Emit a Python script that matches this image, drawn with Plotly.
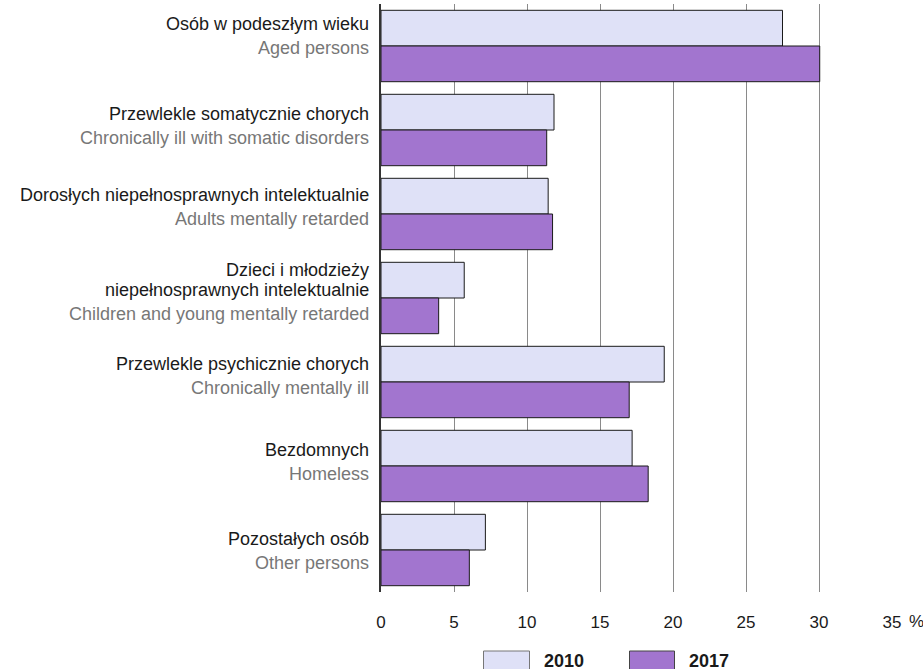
import plotly.graph_objects as go

categories_pl = [
    ["Osób w podeszłym wieku"],
    ["Przewlekle somatycznie chorych"],
    ["Dorosłych niepełnosprawnych intelektualnie"],
    ["Dzieci i młodzieży", "niepełnosprawnych intelektualnie"],
    ["Przewlekle psychicznie chorych"],
    ["Bezdomnych"],
    ["Pozostałych osób"],
]
categories_en = [
    "Aged persons",
    "Chronically ill with somatic disorders",
    "Adults mentally retarded",
    "Children and young mentally retarded",
    "Chronically mentally ill",
    "Homeless",
    "Other persons",
]
values_2010 = [27.5, 11.85, 11.45, 5.7, 19.4, 17.2, 7.15]
values_2017 = [30.05, 11.35, 11.75, 3.95, 17.0, 18.3, 6.05]
series_names = ["2010", "2017"]
tick_vals = [0, 5, 10, 15, 20, 25, 30, 35]
tick_text = ["0", "5", "10", "15", "20", "25", "30", "35"]

# styling
label_block_shift = [-10.5, -4.5, -7, -6.5, -6, -4.5, 1]
col_2010 = "#DFE1F7"
col_2017 = "#A275CF"
FONT = "Liberation Sans, Arial, sans-serif"

fig = go.Figure()
fig.add_trace(go.Bar(
    y=categories_en, x=values_2010, orientation="h", name=series_names[0],
    marker=dict(color=col_2010, line=dict(color="#1a1a1a", width=1)),
    showlegend=False,
))
fig.add_trace(go.Bar(
    y=categories_en, x=values_2017, orientation="h", name=series_names[1],
    marker=dict(color=col_2017, line=dict(color="#1a1a1a", width=1)),
    showlegend=False,
))

annotations = []
for i, en in enumerate(categories_en):
    pl_lines = categories_pl[i]
    n = len(pl_lines)
    offs = [j * 20 for j in range(n)] + [(n - 1) * 20 + 24]
    mid = (offs[0] + offs[-1]) / 2
    offs = [o - mid + label_block_shift[i] for o in offs]
    for j, txt in enumerate(pl_lines):
        annotations.append(dict(
            x=0, xref="paper", y=en, yref="y", text=txt, showarrow=False,
            xanchor="right", yanchor="middle", xshift=-10, yshift=-offs[j],
            font=dict(family=FONT, size=18, color="#1a1a1a"),
        ))
    annotations.append(dict(
        x=0, xref="paper", y=en, yref="y", text=en, showarrow=False,
        xanchor="right", yanchor="middle", xshift=-10, yshift=-offs[-1],
        font=dict(family=FONT, size=18, color="#777777"),
    ))

# percent sign after last tick
annotations.append(dict(
    x=35, xref="x", y=0, yref="paper", text="%", showarrow=False,
    xanchor="left", yanchor="top", xshift=15, yshift=-18,
    font=dict(family=FONT, size=17, color="#1a1a1a"),
))

# legend (custom)
L = 381.0
W = 923 - 31 - L
T = 4.0
H = 592 - T
def px(x):
    return (x - L) / W
def py(y):
    return (T + H - y) / H

shapes = [
    dict(type="rect", xref="paper", yref="paper", x0=px(483.5), x1=px(529.5), y0=py(651), y1=py(672),
         fillcolor=col_2010, line=dict(color="#777777", width=1)),
    dict(type="rect", xref="paper", yref="paper", x0=px(629.5), x1=px(674.5), y0=py(651), y1=py(672),
         fillcolor=col_2017, line=dict(color="#444444", width=1)),
]
annotations.append(dict(x=px(542), xref="paper", y=py(661), yref="paper", text="<b>" + series_names[0] + "</b>",
                        showarrow=False, xanchor="left", yanchor="middle",
                        font=dict(family=FONT, size=18, color="#1a1a1a")))
annotations.append(dict(x=px(686.5), xref="paper", y=py(661), yref="paper", text="<b>" + series_names[1] + "</b>",
                        showarrow=False, xanchor="left", yanchor="middle",
                        font=dict(family=FONT, size=18, color="#1a1a1a")))

fig.update_layout(
    width=923, height=669,
    margin=dict(l=381, r=31, t=4, b=77),
    paper_bgcolor="white", plot_bgcolor="white",
    barmode="group", bargap=0.15, bargroupgap=0,
    font=dict(family=FONT, size=17, color="#1a1a1a"),
    annotations=annotations, shapes=shapes,
    xaxis=dict(
        range=[0, 35], tickvals=tick_vals, ticktext=tick_text,
        showgrid=True, gridcolor="#8a8a8a", gridwidth=1,
        zeroline=False, showline=False, ticks="",
        ticklabelstandoff=18,
        tickfont=dict(family=FONT, size=17, color="#1a1a1a"),
    ),
    yaxis=dict(
        autorange="reversed", showticklabels=False, showgrid=False,
        showline=True, linecolor="#333333", linewidth=2, zeroline=False, ticks="",
    ),
)

fig.write_html(
    "out.html",
    config={"displayModeBar": False},
    post_script="document.body.style.margin='0';document.body.style.overflow='hidden';",
)
